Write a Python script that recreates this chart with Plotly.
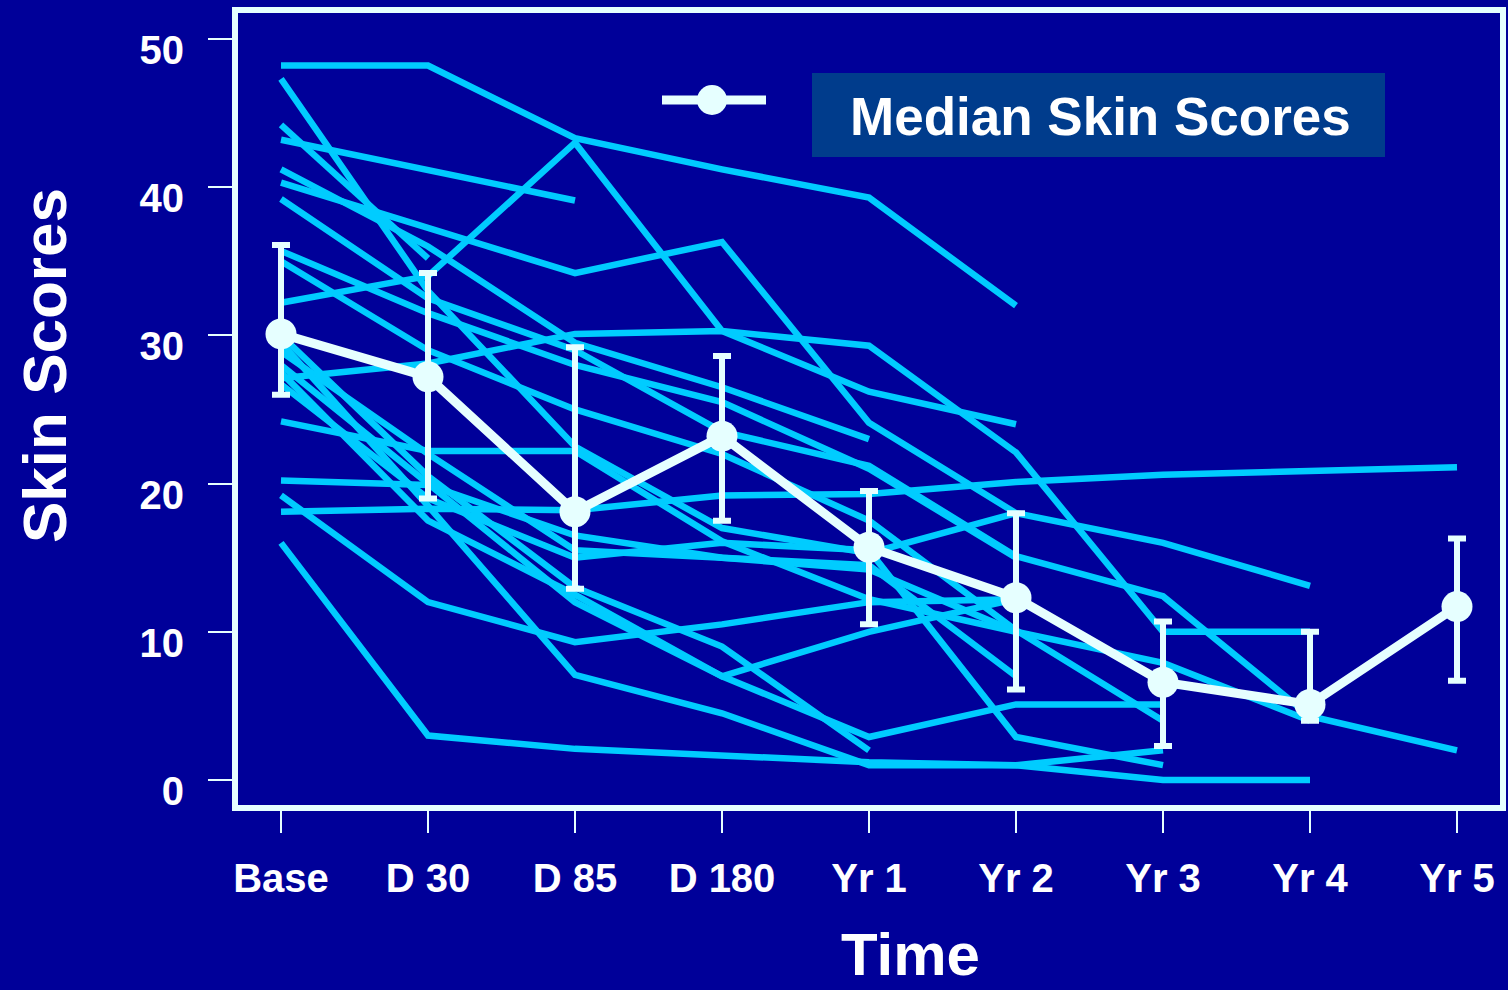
import plotly.graph_objects as go

# ---------------- data ----------------
categories = ["Base", "D 30", "D 85", "D 180", "Yr 1", "Yr 2", "Yr 3", "Yr 4", "Yr 5"]

patients = [
    [48.2, 48.2, 43.3, 41.2, 39.3, 32.0],
    [47.3, 33.0, 22.5, 17.0, 15.3, 18.0],
    [44.2, 35.2],
    [43.2, 41.1, 39.1],
    [41.2, 36.0, 29.5, 26.5, 23.0],
    [40.3, 37.3, 34.2, 36.3, 24.1, 18.0, 16.0, 13.1],
    [39.2, 32.5, 29.0, 23.5, 21.2, 15.1, 12.4, 4.3, 2.0],
    [32.2, 34.0, 43.0, 30.3, 29.3, 22.1, 10.0, 10.0],
    [27.1, 28.1, 30.1, 30.3, 26.2, 24.0],
    [18.1, 18.3, 18.2, 19.2, 19.3, 20.1, 20.6, 20.9, 21.1],
    [35.7, 31.5, 28.0, 25.5, 21.0, 15.0],
    [35.0, 29.0, 25.0, 22.0, 17.5, 10.1, 4.0],
    [28.9, 22.0, 15.5, 15.0, 14.2, 10.0, 7.9, 4.0],
    [28.0, 20.0, 12.0, 7.0, 10.0, 12.2],
    [26.7, 19.0, 15.0, 16.0, 15.5, 2.9, 1.0],
    [24.2, 22.2, 22.2, 16.1, 12.2, 10.0],
    [20.2, 19.9, 16.5, 15.0, 14.5, 7.0],
    [19.2, 12.0, 9.3, 10.5, 12.0, 12.2],
    [16.0, 3.0, 2.1, 1.6, 1.2, 1.0, 2.0],
    [29.5, 18.5, 7.1, 4.5, 1.0, 1.0, 0.0, 0.0],
    [30.0, 20.5, 13.0, 9.0, 2.0],
    [27.5, 17.5, 12.5, 7.0, 2.9, 5.1, 5.1],
]

median = [30.1, 27.2, 18.1, 23.2, 15.7, 12.3, 6.6, 5.1, 11.7]
upper = [36.1, 34.2, 29.2, 28.6, 19.5, 18.0, 10.7, 10.0, 16.3]
lower = [26.0, 19.0, 12.9, 17.5, 10.5, 6.1, 2.3, 4.0, 6.7]

y_ticks = [0, 10, 20, 30, 40, 50]
legend_label = "Median Skin Scores"

# ---------------- style ----------------
BG = "#000099"
CYAN = "#00CCFF"
PALE = "#E6FFFF"
BOX = "#003C8C"
FONT = "Liberation Sans, Arial, sans-serif"

W, H = 1508, 990
ML, MR, MT, MB = 238, 8, 13, 185
PW, PH = W - ML - MR, H - MT - MB


def px(xp):
    return (xp - ML) / PW


def py(yp):
    return (H - MB - yp) / PH


fig = go.Figure()

for p in patients:
    fig.add_trace(go.Scatter(
        x=list(range(len(p))), y=p, mode="lines",
        line=dict(color=CYAN, width=6.5), hoverinfo="skip", showlegend=False,
    ))

err_plus = [u - m for u, m in zip(upper, median)]
err_minus = [m - l for m, l in zip(median, lower)]

fig.add_trace(go.Scatter(
    x=list(range(len(median))), y=median, mode="lines+markers",
    line=dict(color=PALE, width=9),
    marker=dict(color=PALE, size=31),
    error_y=dict(type="data", array=err_plus, arrayminus=err_minus,
                 color=PALE, thickness=6, width=9, visible=True),
    name=legend_label, showlegend=False,
))

fig.update_layout(
    width=W, height=H, autosize=False,
    margin=dict(l=ML, r=MR, t=MT, b=MB, pad=0, autoexpand=False),
    paper_bgcolor=BG, plot_bgcolor=BG,
    font=dict(family=FONT, color="white", weight="bold"),
    showlegend=False,
)

fig.update_xaxes(
    range=[-0.2925, 8.2925], automargin=False,
    tickmode="array", tickvals=list(range(len(categories))), ticktext=categories,
    showgrid=False, zeroline=False,
    showline=True, linecolor=PALE, linewidth=6, mirror=True,
    ticks="outside", ticklen=22, tickwidth=2, tickcolor=PALE,
    tickfont=dict(family=FONT, size=40, color="white", weight="bold"),
    ticklabelstandoff=11,
)
fig.update_yaxes(
    range=[-1.687, 51.75], automargin=False,
    tickmode="array", tickvals=y_ticks,
    showgrid=False, zeroline=False,
    showline=True, linecolor=PALE, linewidth=6, mirror=True,
    ticks="outside", ticklen=24, tickwidth=2, tickcolor=PALE,
    tickfont=dict(family=FONT, size=40, color="white", weight="bold"),
    ticklabelstandoff=16, ticklabelshift=11,
)

# axis titles
fig.add_annotation(text="Skin Scores", xref="paper", yref="paper",
                   x=px(44), y=py(366), xanchor="center", yanchor="middle",
                   textangle=-90, showarrow=False,
                   font=dict(family=FONT, size=62, color="white", weight="bold"))
fig.add_annotation(text="Time", xref="paper", yref="paper",
                   x=px(910), y=py(954), xanchor="center", yanchor="middle",
                   showarrow=False,
                   font=dict(family=FONT, size=60, color="white", weight="bold"))

# legend (box + symbol)
fig.add_shape(type="rect", xref="paper", yref="paper",
              x0=px(812), x1=px(1385), y0=py(157), y1=py(73),
              fillcolor=BOX, line=dict(width=0), layer="above")
fig.add_annotation(text=legend_label, xref="paper", yref="paper",
                   x=px(848), y=py(116), xanchor="left", yanchor="middle",
                   showarrow=False,
                   font=dict(family=FONT, size=53, color="white", weight="bold"))
fig.add_shape(type="line", xref="paper", yref="paper",
              x0=px(662), x1=px(766), y0=py(100), y1=py(100),
              line=dict(color=PALE, width=9), layer="above")
fig.add_shape(type="circle", xref="paper", yref="paper",
              x0=px(697), x1=px(727), y0=py(115), y1=py(85),
              fillcolor=PALE, line=dict(color=PALE, width=0), layer="above")

fig.write_html(
    "out.html",
    config={"displayModeBar": False, "responsive": False},
    post_script="document.body.style.margin='0';document.body.style.background='#000099';document.body.style.overflow='hidden';",
)
